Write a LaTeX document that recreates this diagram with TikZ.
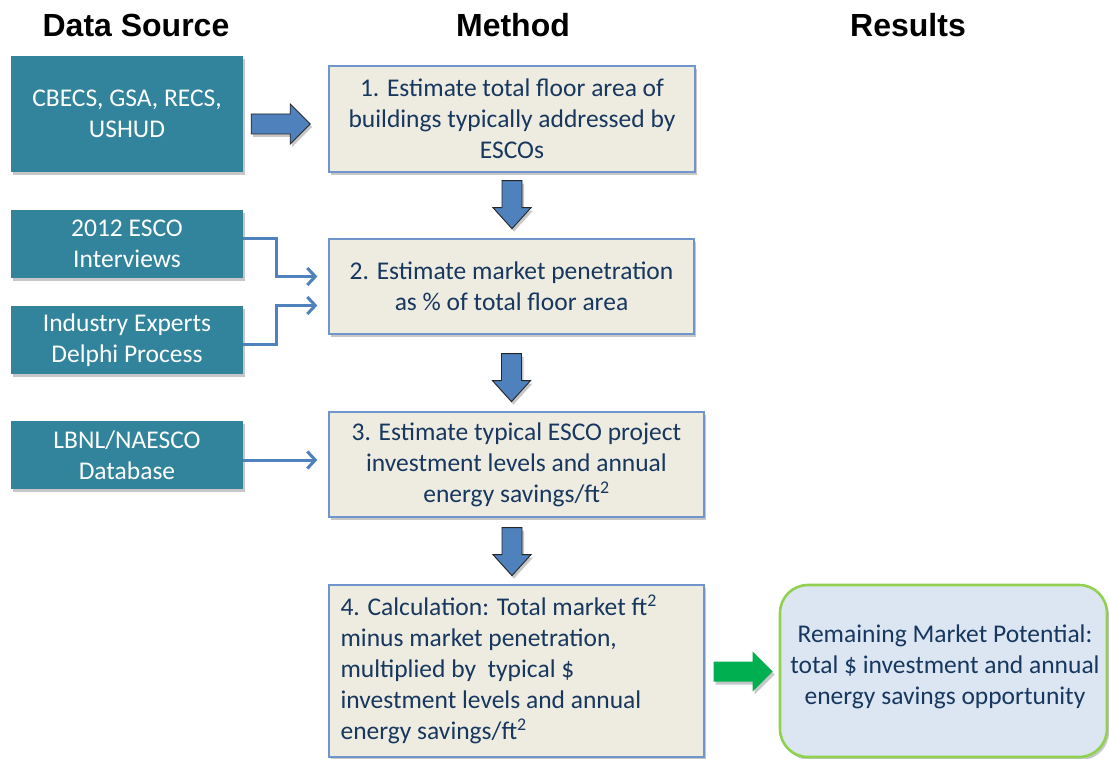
\documentclass[tikz,border=0pt]{standalone}
\usepackage{fontspec}
\setmainfont{Carlito}
\newfontfamily\hdfont{Liberation Sans}
\usetikzlibrary{shadows,arrows.meta,calc}
\definecolor{srcfill}{HTML}{31849B}
\definecolor{methfill}{HTML}{EEECE1}
\definecolor{methdraw}{HTML}{6F95CB}
\definecolor{methtext}{HTML}{17375E}
\definecolor{arrblue}{HTML}{4F81BD}
\definecolor{arrgreen}{HTML}{00B050}
\definecolor{resfill}{HTML}{DCE6F2}
\definecolor{resdraw}{HTML}{92D050}
\tikzset{
  boxfont/.style={font=\fontsize{25.5}{31}\selectfont},
  boxshadow/.style={drop shadow={shadow xshift=2pt,shadow yshift=-3pt,opacity=0.22,fill=black}},
  srcbox/.style={fill=srcfill,draw=none,text=white,align=center,minimum width=232pt,inner sep=0pt,boxshadow,boxfont},
  methbox/.style={fill=methfill,draw=methdraw,line width=1.3pt,text=methtext,align=center,inner sep=0pt,boxshadow,boxfont},
  resbox/.style={fill=resfill,draw=resdraw,line width=2.6pt,rounded corners=28pt,inner sep=0pt,boxshadow},
  boxtext/.style={text=methtext,inner sep=0pt,boxfont},
  header/.style={font=\hdfont\bfseries\fontsize{32}{38}\selectfont,anchor=base},
  conn/.style={draw=arrblue,line width=3pt,-{Straight Barb[length=8pt,width=17pt,line width=3pt]}},
  blockarrow/.style={fill=arrblue,draw=black!85,line width=0.9pt,boxshadow},
  greenarrow/.style={fill=arrgreen,draw=none,boxshadow}
}
\newcommand\dnblock[1]{\draw[blockarrow] ($#1+(-10,0)$) -- ++(0,27) -- ++(-9,0) -- ++(19,21) -- ++(19,-21) -- ++(-9,0) -- ++(0,-27) -- cycle;}
\newcommand\rtblock[2]{\draw[#2] ($#1+(0,-10)$) -- ++(39,0) -- ++(0,-10) -- ++(20,20) -- ++(-20,20) -- ++(0,-10) -- ++(-39,0) -- cycle;}
\begin{document}
\begin{tikzpicture}[x=1pt,y=-1pt]
\useasboundingbox[fill=white] (0,0) rectangle (1109,759);

% headers
\node[header] (h1) at (136,37) {Data Source};
\node[header] (h2) at (513,37) {Method};
\node[header] (h3) at (908,37) {Results};

% data sources
\node[srcbox,minimum height=116pt] (srcA) at (127,114) {CBECS, GSA, RECS,\\USHUD};
\node[srcbox,minimum height=68pt] (srcB) at (127,244) {2012 ESCO\\Interviews};
\node[srcbox,minimum height=68pt] (srcC) at (127,340) {Industry Experts\\Delphi Process};
\node[srcbox,minimum height=68pt] (srcD) at (127,455) {LBNL/NAESCO\\Database};

% method boxes
\node[methbox,minimum width=366pt,minimum height=106pt] (m1) at (512,119)
  {1. Estimate total floor area of\\buildings typically addressed by\\ESCOs};
\node[methbox,minimum width=365pt,minimum height=95pt] (m2) at (511.5,286.5)
  {2. Estimate market penetration\\as \% of total floor area};
\node[methbox,minimum width=375pt,minimum height=105pt] (m3) at (516.5,464.5)
  {3. Estimate typical ESCO project\\investment levels and annual\\energy savings/ft\textsuperscript{2}};
\node[methbox,minimum width=375pt,minimum height=172pt] (m4) at (516.5,671) {};
\node[boxtext,align=left,anchor=west] (m4t) at ([xshift=12pt,yshift=2pt]m4.west)
  {4. Calculation: Total market ft\textsuperscript{2}\\minus market penetration,\\multiplied by\ \ typical \$\\investment levels and annual\\energy savings/ft\textsuperscript{2}};

% result
\node[resbox,minimum width=327pt,minimum height=172pt] (res) at (943.5,671) {};
\node[boxtext,align=center] (rest) at ([xshift=1.5pt,yshift=4pt]res.center)
  {Remaining Market Potential:\\total \$ investment and annual\\energy savings opportunity};

% block arrows
\rtblock{([xshift=8pt,yshift=-10pt]srcA.east)}{blockarrow}
\dnblock{([yshift=-8pt]m1.south)}
\dnblock{([yshift=-19pt]m2.south)}
\dnblock{([xshift=-4.5pt,yshift=-10pt]m3.south)}
\rtblock{([xshift=9pt,yshift=-0.5pt]m4.east)}{greenarrow}

% connectors
\draw[conn] ([yshift=5pt]srcB.east) -- ++(33,0) |- ([xshift=-11pt,yshift=10pt]m2.west);
\draw[conn] ([yshift=-5pt]srcC.east) -- ++(33,0) |- ([xshift=-11pt,yshift=-19pt]m2.west);
\draw[conn] ([yshift=-5pt]srcD.east) -- ([xshift=-11pt,yshift=-5pt]srcD.east -| m3.west);
\end{tikzpicture}
\end{document}
